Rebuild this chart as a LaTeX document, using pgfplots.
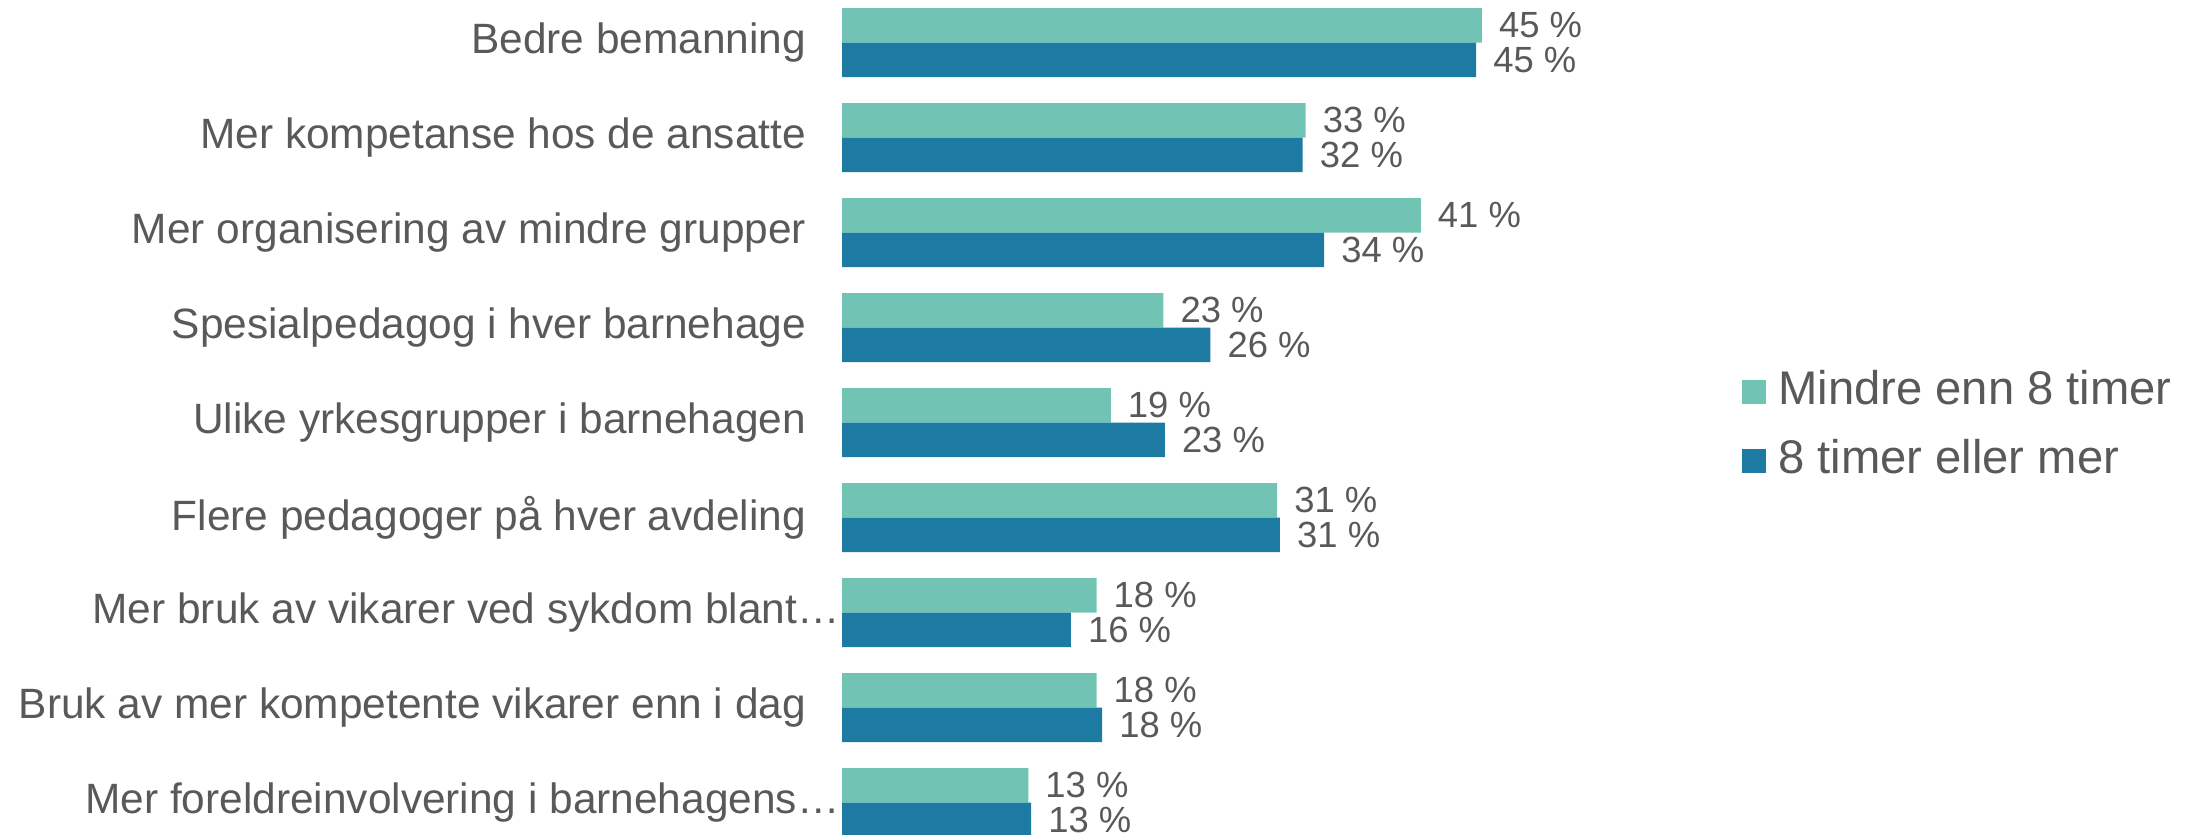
\documentclass[border=0pt]{standalone}
\usepackage{pgfplots}
\pgfplotsset{compat=1.18}
\usepackage{fontspec}
\setmainfont{Liberation Sans}
\definecolor{cLight}{RGB}{113,196,179}
\definecolor{cDark}{RGB}{29,123,163}
\definecolor{txt}{RGB}{89,89,89}
\begin{document}
\begin{tikzpicture}
\path[use as bounding box] (0,0) rectangle (550.25pt,-208.5pt);
\begin{axis}[
  at={(210.5pt,1.2pt)}, anchor=north west,
  width=177.75pt, height=213.75pt, scale only axis,
  xbar=0pt, bar width=8.625pt,
  xmin=0, xmax=50,
  ymin=-0.5, ymax=8.5, y dir=reverse,
  axis line style={draw=none},
  xtick=\empty,
  ytick={0,1,2,3,4,5,6,7,8},
  yticklabels={
    Bedre bemanning,
    Mer kompetanse hos de ansatte,
    Mer organisering av mindre grupper,
    Spesialpedagog i hver barnehage,
    Ulike yrkesgrupper i barnehagen,
    Flere pedagoger på hver avdeling,
    {Mer bruk av vikarer ved sykdom blant…\kern-8.4pt},
    Bruk av mer kompetente vikarer enn i dag,
    {Mer foreldreinvolvering i barnehagens…\kern-8.4pt}},
  major tick length=0pt,
  yticklabel style={font=\fontsize{10.6}{12}\selectfont, text=txt, inner sep=0pt, anchor=east, xshift=-8.8pt},
  clip=false,
  point meta=x,
  /pgf/number format/assume math mode=true,
  nodes near coords={\pgfmathprintnumber[fixed,precision=0]{\pgfplotspointmeta}~\%},
  nodes near coords style={font=\fontsize{9.1}{10}\selectfont, text=txt, anchor=west, inner sep=3.3pt, xshift=0.8pt},
  legend image code/.code={\path[#1, draw=none] (0pt,-3pt) rectangle (6pt,3pt);},
  legend style={at={(1.265,0.5625)}, anchor=north west, draw=none, fill=none,
    font=\fontsize{11.8}{14}\selectfont, text=txt, row sep=6.25pt, inner sep=0pt,
    nodes={inner sep=0pt, text height=8.5pt, text depth=2.5pt},
    /tikz/every odd column/.append style={column sep=3pt}},
  legend cell align=left,
]
\addplot[fill=cLight, draw=none, bar shift=4.3125pt] coordinates {
  (45.0,0) (32.6,1) (40.7,2) (22.6,3) (18.9,4) (30.6,5) (17.9,6) (17.9,7) (13.1,8)};
\addplot[fill=cDark, draw=none, bar shift=-4.3125pt] coordinates {
  (44.6,0) (32.4,1) (33.9,2) (25.9,3) (22.7,4) (30.8,5) (16.1,6) (18.3,7) (13.3,8)};
\legend{Mindre enn 8 timer, 8 timer eller mer}
\end{axis}
\end{tikzpicture}
\end{document}
